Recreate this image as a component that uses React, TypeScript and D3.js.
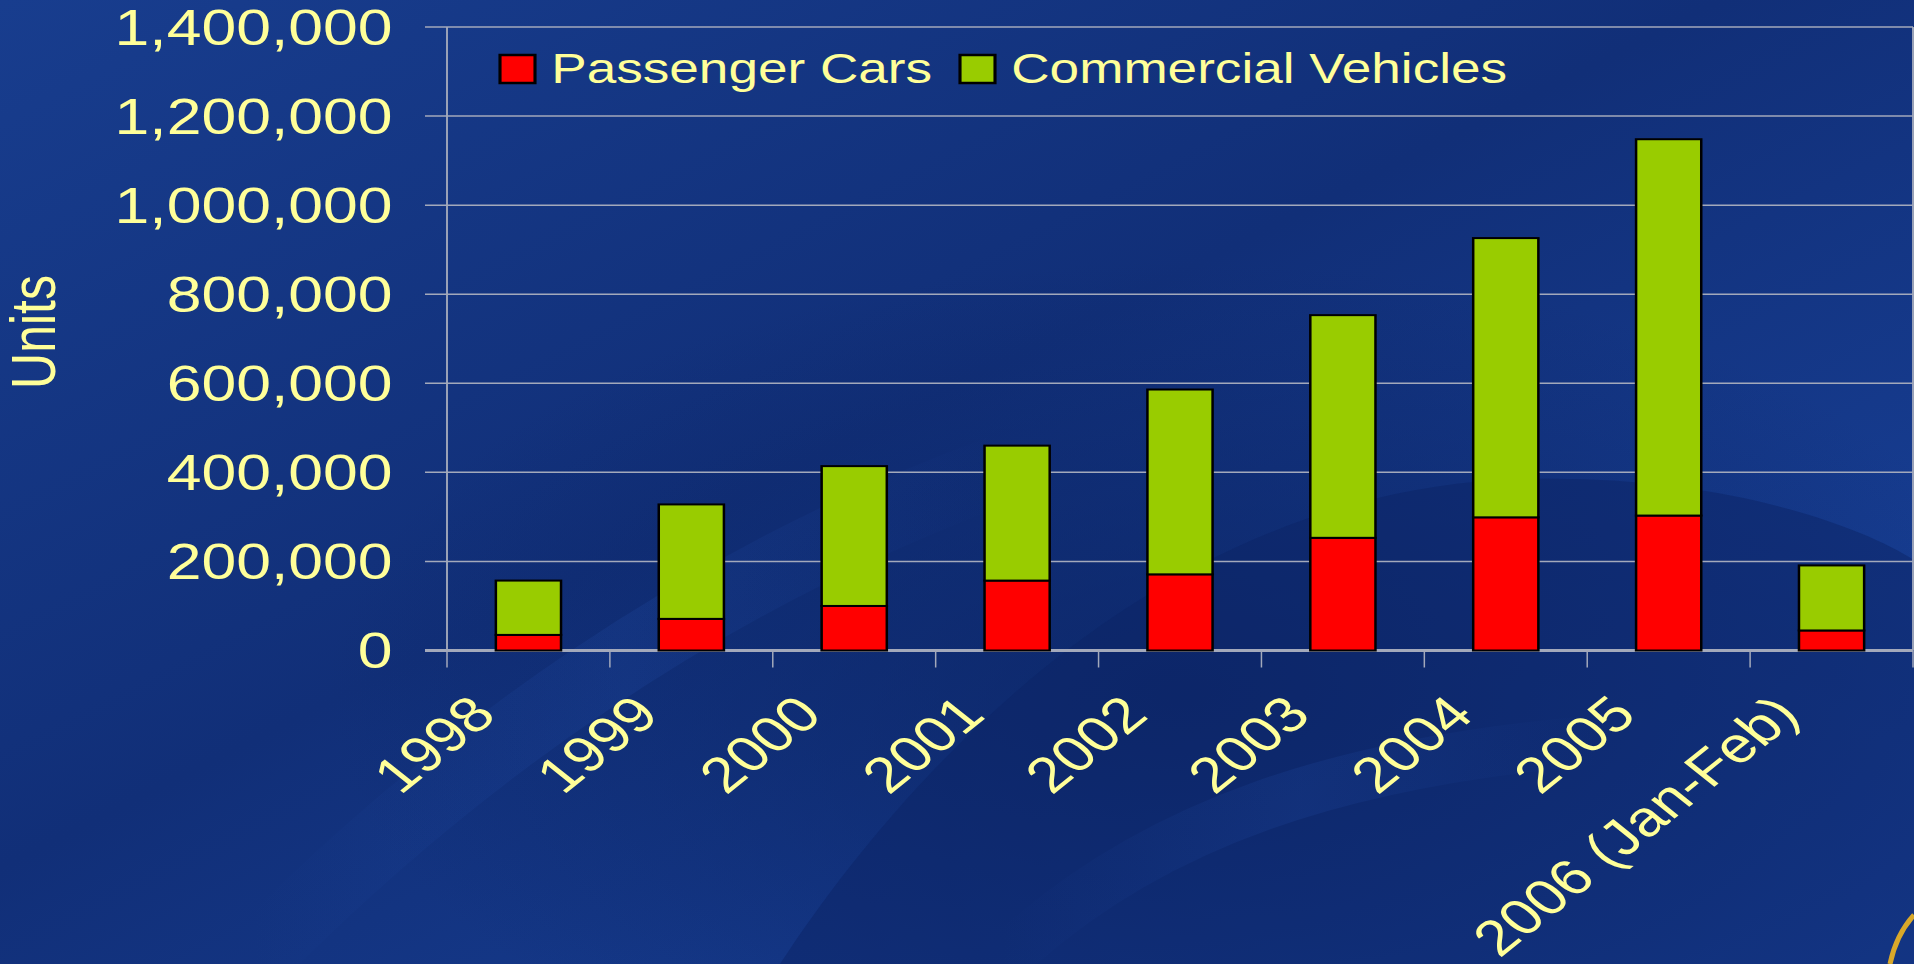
import { useMemo } from 'react';
import * as d3 from 'd3';

const years = ['1998', '1999', '2000', '2001', '2002', '2003', '2004', '2005', '2006 (Jan-Feb)'];
const passengerCars = [35000, 71000, 100000, 157000, 171000, 253000, 299000, 303000, 45000];
const commercialVehicles = [122000, 257000, 314000, 303000, 415000, 500000, 627000, 845000, 146000];
const yTicks = [0, 200000, 400000, 600000, 800000, 1000000, 1200000, 1400000];
const seriesNames = ['Passenger Cars', 'Commercial Vehicles'];
const seriesColors = ['#ff0000', '#99cc00'];

const W = 1914;
const H = 964;
// the slide is stretched horizontally, so everything is drawn in a squeezed frame
const SX = 1.25;
const innerW = W / SX;
const TEXT = '#ffff99';
const FONT = '"Liberation Sans", Arial, sans-serif';

export default function App() {
  const margin = { top: 27, left: 447 / SX, right: innerW - 1913 / SX, bottom: 650.5 };

  const x = d3.scaleBand<string>()
    .domain(years)
    .range([margin.left, innerW - margin.right])
    .paddingInner(0.6)
    .paddingOuter(0.3);

  const y = d3.scaleLinear()
    .domain([0, 1400000])
    .range([margin.bottom, margin.top]);

  const rows = years.map((yr, i) => ({ year: yr, pc: passengerCars[i], cv: commercialVehicles[i] }));
  const stacked = useMemo(() => d3.stack<any>().keys(['pc', 'cv'])(rows), []);

  const step = x.step();
  const x0 = margin.left;
  const boundaries = d3.range(years.length + 1).map(i => x0 + i * step);

  return (
    <svg width={W} height={H} style={{ position: 'absolute', left: 0, top: 0, display: 'block' }}>
      <defs>
        <linearGradient id="bg" x1="0" y1="0" x2="1" y2="1">
          <stop offset="0%" stopColor="#183d8e" />
          <stop offset="45%" stopColor="#112f78" />
          <stop offset="100%" stopColor="#1a45a0" />
        </linearGradient>
        <radialGradient id="dark" cx="0.62" cy="0.72" r="0.45">
          <stop offset="0%" stopColor="#0a2260" stopOpacity="0.7" />
          <stop offset="100%" stopColor="#0a2260" stopOpacity="0" />
        </radialGradient>
        <linearGradient id="light" x1="0" y1="0" x2="1" y2="0">
          <stop offset="0%" stopColor="#2a5cc0" stopOpacity="0" />
          <stop offset="50%" stopColor="#2a5cc0" stopOpacity="0.3" />
          <stop offset="100%" stopColor="#2a5cc0" stopOpacity="0" />
        </linearGradient>
      </defs>
      <rect width={W} height={H} fill="url(#bg)" />
      <rect width={W} height={H} fill="url(#dark)" />
      <path d="M 780 964 C 900 780, 1150 500, 1500 480 C 1700 470, 1850 520, 1914 560 L 1914 964 Z"
        fill="#0b2466" opacity="0.5" />
      <path d="M 250 964 C 450 760, 700 580, 1000 470" fill="none" stroke="url(#light)" strokeWidth="70" opacity="0.5" />
      <path d="M 1000 964 C 1150 820, 1350 760, 1600 740" fill="none" stroke="url(#light)" strokeWidth="50" opacity="0.5" />
      <path d="M 1890 964 C 1895 940, 1905 925, 1914 915" fill="none" stroke="#d9a82a" strokeWidth="5" />

      <g transform={`scale(${SX},1)`} fontFamily={FONT}>
        {/* gridlines and y ticks */}
        {yTicks.map(t => (
          <g key={t}>
            <line x1={340} x2={innerW - margin.right} y1={y(t)} y2={y(t)}
              stroke="#a3a9bb" strokeWidth={t === 0 ? 3 : 1.5} />
            <text x={314} y={y(t)} dy="0.36em" textAnchor="end" fill={TEXT} fontSize={50}>
              {d3.format(',')(t)}
            </text>
          </g>
        ))}
        {/* plot frame sides */}
        <line x1={x0} x2={x0} y1={margin.top} y2={margin.bottom} stroke="#a3a9bb" strokeWidth={1.5} />
        <line x1={innerW - margin.right} x2={innerW - margin.right} y1={margin.top} y2={margin.bottom}
          stroke="#a3a9bb" strokeWidth={1.5} />
        {boundaries.map((bx, i) => (
          <line key={i} x1={bx} x2={bx} y1={margin.bottom} y2={margin.bottom + 17}
            stroke="#a3a9bb" strokeWidth={1.2} />
        ))}

        {/* bars */}
        {stacked.map((s, si) => (
          <g key={s.key} fill={seriesColors[si]} stroke="#000" strokeWidth={2}>
            {s.map((d, i) => (
              <rect key={i} x={x(years[i])} y={y(d[1])} width={x.bandwidth()} height={y(d[0]) - y(d[1])} />
            ))}
          </g>
        ))}

        {/* x labels */}
        {years.map(yr => {
          const cx = (x(yr) as number) + x.bandwidth() / 2 - 24;
          return (
            <text key={yr} transform={`translate(${cx},717) rotate(-45)`} textAnchor="end"
              fill={TEXT} fontSize={50}>{yr}</text>
          );
        })}

        {/* y axis title */}
        <text transform={`translate(${34 / SX + 17},332) rotate(-90)`} textAnchor="middle"
          fill={TEXT} fontSize={50}>Units</text>

        {/* legend */}
        {seriesNames.map((name, i) => {
          const lx = [400, 768][i];
          return (
            <g key={name}>
              <rect x={lx} y={55} width={28} height={28} fill={seriesColors[i]} stroke="#000" strokeWidth={2.5} />
              <text x={lx + 41} y={83} fill={TEXT} fontSize={42.5}>{name}</text>
            </g>
          );
        })}
      </g>
    </svg>
  );
}
